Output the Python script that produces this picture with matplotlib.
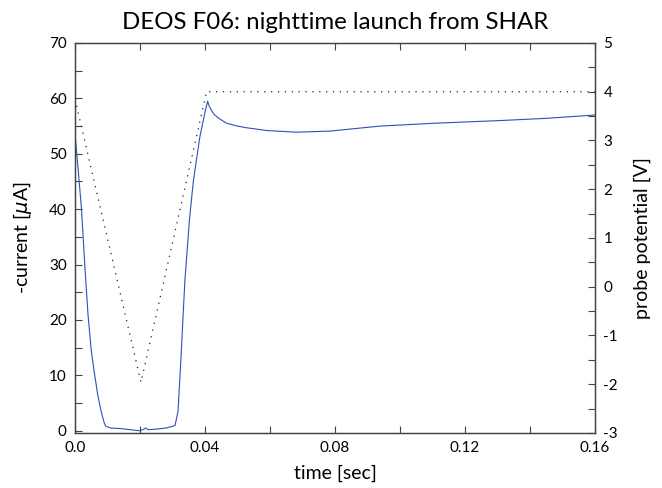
import numpy as np
import matplotlib
matplotlib.use("Agg")
import matplotlib.pyplot as plt
from matplotlib.ticker import MultipleLocator

plt.rcParams['font.family'] = ['Lato', 'DejaVu Sans']
plt.rcParams['mathtext.fontset'] = 'dejavusans'
plt.rcParams['axes.unicode_minus'] = False

# probe current (blue, left axis)
t_cur = [0.0, 0.001, 0.002, 0.003, 0.004, 0.005, 0.006, 0.007, 0.008, 0.009,
         0.0095, 0.011, 0.014, 0.017, 0.020, 0.0212, 0.0218, 0.0225, 0.025,
         0.028, 0.030, 0.0308, 0.0317, 0.0325, 0.0338, 0.0352, 0.0364, 0.0384,
         0.0400, 0.0408, 0.0413, 0.0420, 0.0430, 0.0445, 0.0467, 0.0500,
         0.0528, 0.059, 0.0682, 0.0785, 0.0938, 0.110, 0.1308, 0.145, 0.160]
cur = [53.5, 47, 40, 30, 21, 14.5, 10.3, 6.5, 3.6, 1.4,
       0.8, 0.5, 0.4, 0.2, 0.0, 0.3, 0.5, 0.2, 0.3,
       0.5, 0.8, 1.0, 3.5, 12, 27, 38, 45, 53,
       57.5, 59.5, 58.6, 57.8, 57.0, 56.3, 55.5, 55.0,
       54.7, 54.2, 53.9, 54.1, 55.0, 55.5, 56.0, 56.4, 57.0]

# probe potential (dotted, right axis)
t_pot = [0.0, 0.0203, 0.0405, 0.160]
pot = [3.85, -1.96, 4.0, 4.0]

fig = plt.figure(figsize=(6.62, 4.88), dpi=100)
ax = fig.add_axes([75/662, 1 - 433/488, 520/662, 390/488])
ax2 = ax.twinx()

ax.plot(t_cur, cur, color='#3050b8', lw=0.8)
ax2.plot(t_pot, pot, color='#222222', lw=0.9, linestyle=(0, (1, 4.5)))

ax.set_xlim(0, 0.16)
ax.set_ylim(-0.4, 70)
ax2.set_ylim(-3, 5)

ax.xaxis.set_major_locator(MultipleLocator(0.04))
ax.xaxis.set_minor_locator(MultipleLocator(0.02))
ax.yaxis.set_major_locator(MultipleLocator(10))
ax.yaxis.set_minor_locator(MultipleLocator(5))
ax2.yaxis.set_major_locator(MultipleLocator(1))
ax2.yaxis.set_minor_locator(MultipleLocator(0.5))
ax.set_xticks([0, 0.04, 0.08, 0.12, 0.16])
ax.set_xticklabels(['0.0', '0.04', '0.08', '0.12', '0.16'])

ax.tick_params(which='both', direction='in', top=True, right=False,
               length=5, width=0.8, color='#444444', labelsize=11, pad=6)
ax2.tick_params(which='both', direction='in', length=5, width=0.8,
                color='#444444', labelsize=11, pad=6)
for a in (ax, ax2):
    for sp in a.spines.values():
        sp.set_color('#444444')
        sp.set_linewidth(0.9)

ax.set_title('DEOS F06: nighttime launch from SHAR', fontsize=17.3, pad=10)
ax.set_xlabel('time [sec]', fontsize=14, labelpad=7)
ax.set_ylabel(r'-current [$\mu$A]', fontsize=14, labelpad=11)
ax2.set_ylabel('probe potential [V]', fontsize=14, labelpad=11)

fig.savefig('out.png', dpi=100)
